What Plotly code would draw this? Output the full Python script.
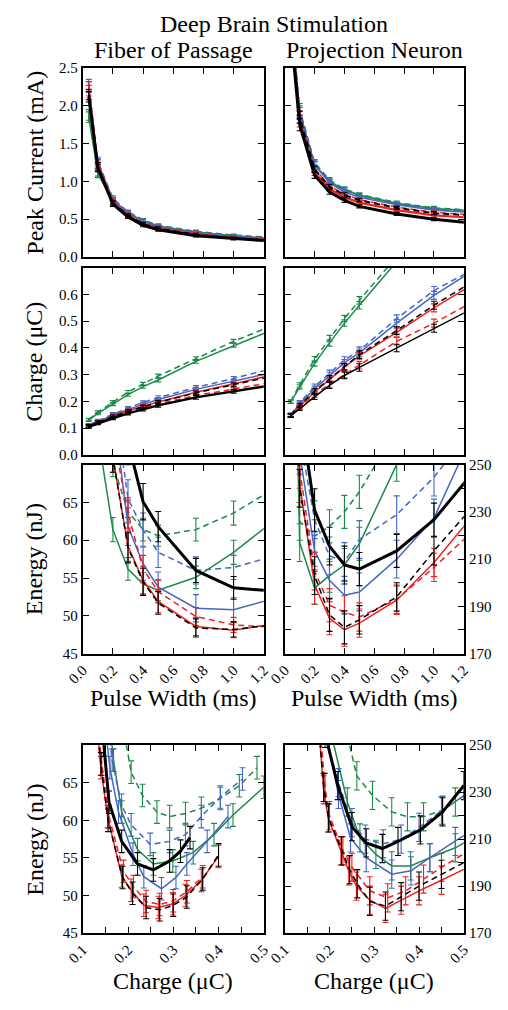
import plotly.graph_objects as go

# ---------------- data ----------------
PW = [0.04, 0.1, 0.2, 0.3, 0.4, 0.5, 0.75, 1.0, 1.25]
PW_TICKS = [0.0, 0.2, 0.4, 0.6, 0.8, 1.0, 1.2]
PW_TICK_TEXT = ["0.0", "0.2", "0.4", "0.6", "0.8", "1.0", "1.2"]

# Row 1: peak current (mA) - fiber of passage
fp_cur_k = [2.12, 1.18, 0.70, 0.53, 0.42, 0.36, 0.28, 0.24, 0.21]
fp_cur_kd = [2.15, 1.20, 0.72, 0.55, 0.44, 0.38, 0.30, 0.25, 0.22]
fp_cur_r = [2.20, 1.22, 0.72, 0.55, 0.44, 0.38, 0.30, 0.25, 0.225]
fp_cur_rd = [2.25, 1.24, 0.74, 0.56, 0.45, 0.39, 0.31, 0.26, 0.23]
fp_cur_b = [2.25, 1.25, 0.76, 0.58, 0.47, 0.40, 0.32, 0.27, 0.24]
fp_cur_bd = [2.28, 1.27, 0.78, 0.59, 0.48, 0.41, 0.33, 0.28, 0.25]
fp_cur_g = [1.85, 1.10, 0.74, 0.58, 0.48, 0.41, 0.33, 0.28, 0.25]
fp_cur_gd = [1.88, 1.12, 0.76, 0.60, 0.49, 0.42, 0.34, 0.29, 0.26]
fp_cur_err = [0.07, 0.05, 0.03, 0.02, 0.02, 0.02, 0.015, 0.015, 0.015]

# Row 1: peak current (mA) - projection neuron
pn_cur_k = [3.0, 1.75, 1.08, 0.86, 0.75, 0.67, 0.57, 0.50, 0.45]
pn_cur_kd = [3.1, 1.85, 1.16, 0.93, 0.82, 0.75, 0.65, 0.58, 0.55]
pn_cur_r = [3.1, 1.80, 1.12, 0.90, 0.79, 0.72, 0.62, 0.55, 0.52]
pn_cur_rd = [3.15, 1.85, 1.17, 0.94, 0.83, 0.76, 0.66, 0.59, 0.56]
pn_cur_b = [3.25, 1.92, 1.22, 0.98, 0.86, 0.79, 0.69, 0.62, 0.59]
pn_cur_bd = [3.3, 1.95, 1.24, 1.00, 0.88, 0.81, 0.70, 0.63, 0.60]
pn_cur_g = [3.25, 1.90, 1.22, 1.00, 0.89, 0.82, 0.71, 0.64, 0.61]
pn_cur_gd = [3.3, 1.95, 1.25, 1.02, 0.90, 0.83, 0.72, 0.65, 0.62]
pn_cur_err = [0.15, 0.08, 0.04, 0.03, 0.03, 0.02, 0.02, 0.02, 0.02]

# Row 2: charge (uC) - fiber of passage
fp_q_k = [0.105, 0.118, 0.137, 0.155, 0.170, 0.185, 0.215, 0.238, 0.260]
fp_q_kd = [0.108, 0.122, 0.143, 0.163, 0.180, 0.196, 0.232, 0.262, 0.293]
fp_q_r = [0.108, 0.122, 0.144, 0.165, 0.182, 0.198, 0.234, 0.265, 0.298]
fp_q_rd = [0.106, 0.120, 0.140, 0.158, 0.174, 0.190, 0.222, 0.246, 0.271]
fp_q_b = [0.110, 0.125, 0.148, 0.170, 0.190, 0.207, 0.245, 0.275, 0.307]
fp_q_bd = [0.112, 0.128, 0.152, 0.175, 0.196, 0.214, 0.252, 0.286, 0.322]
fp_q_g = [0.130, 0.155, 0.190, 0.225, 0.255, 0.280, 0.350, 0.410, 0.466]
fp_q_gd = [0.132, 0.160, 0.197, 0.235, 0.265, 0.295, 0.360, 0.425, 0.482]
fp_q_err = [0.005, 0.005, 0.006, 0.006, 0.006, 0.007, 0.007, 0.007, 0.007]

# Row 2: charge (uC) - projection neuron
pn_q_k = [0.146, 0.174, 0.217, 0.260, 0.297, 0.327, 0.400, 0.474, 0.545]
pn_q_kd = [0.148, 0.185, 0.238, 0.285, 0.330, 0.375, 0.465, 0.560, 0.645]
pn_q_r = [0.147, 0.182, 0.235, 0.283, 0.328, 0.370, 0.458, 0.550, 0.635]
pn_q_rd = [0.146, 0.178, 0.225, 0.265, 0.300, 0.335, 0.425, 0.493, 0.570]
pn_q_b = [0.148, 0.190, 0.247, 0.297, 0.345, 0.382, 0.493, 0.597, 0.685]
pn_q_bd = [0.150, 0.195, 0.255, 0.305, 0.355, 0.390, 0.510, 0.615, 0.690]
pn_q_g = [0.198, 0.254, 0.342, 0.419, 0.493, 0.560, 0.730, 0.900, 1.050]
pn_q_gd = [0.200, 0.262, 0.358, 0.435, 0.510, 0.578, 0.750, 0.920, 1.070]
pn_q_err = [0.006, 0.008, 0.010, 0.012, 0.012, 0.014, 0.014, 0.015, 0.015]

# Row 3: energy (nJ) vs pulse width - fiber of passage
fp_e_k = [300, 150, 92, 73, 65.1, 61.8, 56.0, 53.7, 53.3]
fp_e_kd = [250, 110, 71, 59.0, 54.5, 51.7, 48.4, 48.2, 48.8]
fp_e_r = [250, 110, 71, 59.2, 54.7, 51.9, 48.6, 48.1, 48.85]
fp_e_rd = [260, 115, 74, 63.6, 56.2, 53.2, 49.9, 48.8, 48.5]
fp_e_b = [260, 120, 78, 61.8, 56.9, 53.8, 51.0, 50.8, 52.2]
fp_e_bd = [270, 125, 80, 65.5, 61.4, 58.4, 56.0, 56.4, 57.8]
fp_e_g = [200, 74, 61.4, 56.2, 54.2, 53.4, 55.1, 58.4, 62.3]
fp_e_gd = [220, 85, 70, 63.8, 61.4, 60.6, 61.4, 63.6, 66.6]
fp_e_err_k = [3, 3, 3, 3, 2.4, 2.0, 1.6, 1.5, 1.5]
fp_e_err_r = [2, 2, 2, 2, 1.8, 1.5, 1.2, 1.0, 1.0]
fp_e_err_b = [2.5, 2.5, 2.5, 2.5, 2.2, 2.0, 1.8, 1.6, 1.6]
fp_e_err_g = [2, 2, 1.6, 1.5, 1.5, 1.4, 1.5, 1.6, 1.8]

# Row 3: energy (nJ) vs pulse width - projection neuron
pn_e_k = [400, 275, 230.8, 215.5, 207.5, 205.8, 213.5, 226.7, 245.8]
pn_e_kd = [400, 240, 203, 186.4, 181.1, 184.3, 194, 213.5, 231.5]
pn_e_r = [400, 242, 199, 185, 180.1, 182.9, 192.6, 208.6, 227.7]
pn_e_rd = [400, 248, 205, 190.5, 187.5, 185.5, 193, 206.5, 221.3]
pn_e_b = [400, 255, 213.5, 201, 194.7, 196.1, 210, 227.4, 262]
pn_e_bd = [400, 262, 226.7, 211.4, 209, 218.3, 228.8, 244.7, 265]
pn_e_g = [400, 217, 197.8, 203, 207.5, 216.5, 250, 285, 320]
pn_e_gd = [400, 226, 219.7, 223.9, 230, 238.5, 265, 290, 315]
pn_e_err_k = [10, 10, 9, 8, 8, 7, 7, 7, 7]
pn_e_err_r = [8, 8, 8, 7, 7, 6, 6, 6, 6]
pn_e_err_b = [9, 9, 8, 8, 8, 8, 8, 8, 8]
pn_e_err_g = [8, 8, 7, 7, 7, 7, 7, 7, 7]

# Row 4: energy (nJ) vs charge (uC) - fiber of passage
fpq_k_x = [0.135, 0.146, 0.158, 0.186, 0.221, 0.256, 0.292, 0.316, 0.337]
fpq_k_y = [78, 70, 62.4, 57.2, 54.2, 53.4, 54.6, 55.9, 57.7]
fpq_kd_x = [0.128, 0.14, 0.156, 0.188, 0.21, 0.24, 0.27, 0.30, 0.33, 0.365, 0.40]
fpq_kd_y = [75, 67.5, 60, 52.4, 50.3, 48.4, 48.1, 48.7, 49.8, 52.2, 55.4]
fpq_r_x = [0.128, 0.14, 0.155, 0.186, 0.207, 0.235, 0.267, 0.299, 0.327, 0.362, 0.40]
fpq_r_y = [75, 67, 60.5, 52.6, 50.7, 48.7, 48.4, 48.9, 50.0, 52.0, 55.2]
fpq_rd_x = [0.13, 0.142, 0.158, 0.19, 0.212, 0.24, 0.27, 0.30, 0.33, 0.365]
fpq_rd_y = [75, 67.5, 60.5, 53.2, 51.2, 49.2, 48.8, 49.3, 50.5, 52.5]
fpq_b_x = [0.143, 0.16, 0.179, 0.211, 0.235, 0.274, 0.306, 0.33, 0.375, 0.421]
fpq_b_y = [76, 67, 61.1, 55.5, 52.5, 50.9, 52.4, 54.2, 57.2, 60.5]
fpq_bd_x = [0.15, 0.165, 0.186, 0.207, 0.249, 0.292, 0.327, 0.362, 0.404, 0.453]
fpq_bd_y = [76, 68, 62.0, 59.4, 56.8, 57.2, 58.1, 60.5, 63.1, 65.5]
fpq_g_x = [0.155, 0.168, 0.186, 0.221, 0.256, 0.299, 0.344, 0.39, 0.432, 0.50]
fpq_g_y = [76, 68, 61.1, 56.1, 54.2, 54.6, 55.7, 58.1, 60.7, 64.4]
fpq_gd_x = [0.185, 0.207, 0.232, 0.264, 0.292, 0.327, 0.362, 0.404, 0.446, 0.485]
fpq_gd_y = [74, 66.4, 63.3, 61.1, 60.5, 60.9, 61.6, 62.9, 64.6, 67.0]
fpq_err = 1.5

# Row 4: energy (nJ) vs charge (uC) - projection neuron
pnq_k_x = [0.19, 0.2185, 0.25, 0.282, 0.318, 0.353, 0.403, 0.4525, 0.50]
pnq_k_y = [255, 232.8, 215.3, 208.4, 206, 209, 213.9, 221.6, 232.8]
pnq_kd_x = [0.175, 0.187, 0.198, 0.227, 0.245, 0.262, 0.29, 0.325, 0.36, 0.40, 0.45, 0.52]
pnq_kd_y = [260, 232, 219, 205, 197, 191, 183.5, 181.5, 185.5, 190, 195, 202]
pnq_r_x = [0.175, 0.187, 0.197, 0.2255, 0.243, 0.26, 0.29, 0.325, 0.36, 0.40, 0.45, 0.52]
pnq_r_y = [260, 231, 219, 205, 196.5, 190, 184, 180.5, 184, 188, 192.5, 199]
pnq_rd_x = [0.178, 0.19, 0.2, 0.23, 0.25, 0.29, 0.33, 0.37, 0.41, 0.45, 0.52]
pnq_rd_y = [260, 232, 220, 205, 198, 188, 185, 188, 193, 198, 206]
pnq_b_x = [0.19, 0.22, 0.247, 0.282, 0.339, 0.382, 0.424, 0.481, 0.52]
pnq_b_y = [258, 229, 210.5, 202.1, 195.1, 196.5, 202.1, 209, 214]
pnq_bd_x = [0.185, 0.22, 0.25, 0.28, 0.32, 0.36, 0.40, 0.45, 0.52]
pnq_bd_y = [258, 234, 217, 210, 208, 210, 215, 222, 231]
pnq_g_x = [0.195, 0.2398, 0.268, 0.3036, 0.339, 0.381, 0.424, 0.481, 0.52]
pnq_g_y = [262, 225.8, 210.5, 203.5, 198.6, 198.6, 202.1, 206.3, 210.5]
pnq_gd_x = [0.235, 0.261, 0.296, 0.339, 0.374, 0.41, 0.4525, 0.481, 0.52]
pnq_gd_y = [258, 236.9, 228.6, 221.6, 219.5, 219.5, 222.3, 225.8, 231]
pnq_err = 6

Q_TICKS = [0.1, 0.15, 0.2, 0.25, 0.3, 0.35, 0.4, 0.45, 0.5]
Q_TICK_TEXT = ["0.1", "", "0.2", "", "0.3", "", "0.4", "", "0.5"]

# ---------------- style ----------------
W, H = 508, 1010
FONT = "Liberation Serif"
BLACK, RED, BLUE, GREEN = "#000000", "#ee2020", "#4466c4", "#1c8a48"
DASH = "6px,4px"

COLS = {1: (69, 259), 2: (281, 469)}
ROWS = {1: (61, 253), 2: (264, 454), 3: (464, 656), 4: (749, 940)}


def xdom(c):
    a, b = COLS[c]
    return [a / W, b / W]


def ydom(r):
    a, b = ROWS[r]
    return [1 - b / H, 1 - a / H]


fig = go.Figure()


def add(panel, x, y, err, color, dashed=False, width=1.5):
    if not isinstance(err, list):
        err = [err] * len(y)
    fig.add_trace(go.Scatter(
        x=x, y=y, mode="lines",
        line=dict(color=color, width=width, dash=DASH if dashed else "solid"),
        error_y=dict(type="data", array=err, visible=True, color=color,
                     thickness=1.1, width=3),
        xaxis="x" + str(panel), yaxis="y" + str(panel),
        showlegend=False, hoverinfo="skip",
    ))


def add_panel(panel, x, series):
    # series order: gd, g, bd, b, rd, r, kd, k
    for vals, err, color, dashed, width in series:
        add(panel, x, vals, err, color, dashed, width)


add_panel(1, PW, [
    (fp_cur_gd, fp_cur_err, GREEN, True, 1.5), (fp_cur_g, fp_cur_err, GREEN, False, 1.5),
    (fp_cur_bd, fp_cur_err, BLUE, True, 1.5), (fp_cur_b, fp_cur_err, BLUE, False, 1.5),
    (fp_cur_rd, fp_cur_err, RED, True, 1.5), (fp_cur_r, fp_cur_err, RED, False, 1.8),
    (fp_cur_kd, fp_cur_err, BLACK, True, 1.5), (fp_cur_k, fp_cur_err, BLACK, False, 3),
])
add_panel(2, PW, [
    (pn_cur_gd, pn_cur_err, GREEN, True, 1.5), (pn_cur_g, pn_cur_err, GREEN, False, 1.8),
    (pn_cur_bd, pn_cur_err, BLUE, True, 1.5), (pn_cur_b, pn_cur_err, BLUE, False, 1.5),
    (pn_cur_rd, pn_cur_err, RED, True, 1.5), (pn_cur_r, pn_cur_err, RED, False, 2.2),
    (pn_cur_kd, pn_cur_err, BLACK, True, 2), (pn_cur_k, pn_cur_err, BLACK, False, 3),
])
add_panel(3, PW, [
    (fp_q_gd, fp_q_err, GREEN, True, 1.5), (fp_q_g, fp_q_err, GREEN, False, 1.5),
    (fp_q_bd, fp_q_err, BLUE, True, 1.5), (fp_q_b, fp_q_err, BLUE, False, 1.5),
    (fp_q_rd, fp_q_err, RED, True, 1.5), (fp_q_r, fp_q_err, RED, False, 1.5),
    (fp_q_kd, fp_q_err, BLACK, True, 1.5), (fp_q_k, fp_q_err, BLACK, False, 2.5),
])
add_panel(4, PW, [
    (pn_q_gd, pn_q_err, GREEN, True, 1.5), (pn_q_g, pn_q_err, GREEN, False, 1.5),
    (pn_q_bd, pn_q_err, BLUE, True, 1.5), (pn_q_b, pn_q_err, BLUE, False, 1.5),
    (pn_q_rd, pn_q_err, RED, True, 1.5), (pn_q_r, pn_q_err, RED, False, 1.5),
    (pn_q_kd, pn_q_err, BLACK, True, 1.5), (pn_q_k, pn_q_err, BLACK, False, 1.5),
])
add_panel(5, PW, [
    (fp_e_gd, fp_e_err_g, GREEN, True, 1.5), (fp_e_g, fp_e_err_g, GREEN, False, 1.5),
    (fp_e_bd, fp_e_err_b, BLUE, True, 1.5), (fp_e_b, fp_e_err_b, BLUE, False, 1.5),
    (fp_e_rd, fp_e_err_r, RED, True, 1.5), (fp_e_r, fp_e_err_r, RED, False, 1.5),
    (fp_e_kd, fp_e_err_r, BLACK, True, 1.5), (fp_e_k, fp_e_err_k, BLACK, False, 3),
])
add_panel(6, PW, [
    (pn_e_gd, pn_e_err_g, GREEN, True, 1.5), (pn_e_g, pn_e_err_g, GREEN, False, 1.5),
    (pn_e_bd, pn_e_err_b, BLUE, True, 1.5), (pn_e_b, pn_e_err_b, BLUE, False, 1.5),
    (pn_e_rd, pn_e_err_r, RED, True, 1.5), (pn_e_r, pn_e_err_r, RED, False, 1.5),
    (pn_e_kd, pn_e_err_r, BLACK, True, 1.5), (pn_e_k, pn_e_err_k, BLACK, False, 3),
])
for x, y, c, d, w in [
    (fpq_gd_x, fpq_gd_y, GREEN, True, 1.5), (fpq_g_x, fpq_g_y, GREEN, False, 1.5),
    (fpq_bd_x, fpq_bd_y, BLUE, True, 1.5), (fpq_b_x, fpq_b_y, BLUE, False, 1.5),
    (fpq_rd_x, fpq_rd_y, RED, True, 1.5), (fpq_r_x, fpq_r_y, RED, False, 1.5),
    (fpq_kd_x, fpq_kd_y, BLACK, True, 1.5), (fpq_k_x, fpq_k_y, BLACK, False, 3),
]:
    add(7, x, y, fpq_err, c, d, w)
for x, y, c, d, w in [
    (pnq_gd_x, pnq_gd_y, GREEN, True, 1.5), (pnq_g_x, pnq_g_y, GREEN, False, 1.5),
    (pnq_bd_x, pnq_bd_y, BLUE, True, 1.5), (pnq_b_x, pnq_b_y, BLUE, False, 1.5),
    (pnq_rd_x, pnq_rd_y, RED, True, 1.5), (pnq_r_x, pnq_r_y, RED, False, 1.5),
    (pnq_kd_x, pnq_kd_y, BLACK, True, 1.5), (pnq_k_x, pnq_k_y, BLACK, False, 3),
]:
    add(8, x, y, pnq_err, c, d, w)

# ---------------- axes ----------------
common = dict(showline=True, linecolor="black", linewidth=2.2, mirror="ticks",
              ticks="inside", ticklen=6, tickwidth=1.3, tickcolor="black",
              showgrid=False, zeroline=False,
              tickfont=dict(family=FONT, size=15, color="black"))

layout_axes = {}
for panel in range(1, 9):
    r = (panel - 1) // 2 + 1
    c = (panel - 1) % 2 + 1
    xa = dict(common, domain=xdom(c), anchor="y" + str(panel))
    ya = dict(common, domain=ydom(r), anchor="x" + str(panel))
    if r <= 3:
        xa.update(range=[0, 1.2], tickmode="array", tickvals=PW_TICKS,
                  ticktext=PW_TICK_TEXT, showticklabels=(r == 3), tickangle=-45)
    else:
        xa.update(range=[0.1, 0.5], tickmode="array", tickvals=Q_TICKS,
                  ticktext=Q_TICK_TEXT, tickangle=-45)
    if r == 1:
        ya.update(range=[0, 2.5], tickmode="array",
                  tickvals=[0, 0.5, 1.0, 1.5, 2.0, 2.5],
                  ticktext=["0.0", "0.5", "1.0", "1.5", "2.0", "2.5"],
                  showticklabels=(c == 1))
    elif r == 2:
        ya.update(range=[0, 0.7], tickmode="array",
                  tickvals=[0, 0.1, 0.2, 0.3, 0.4, 0.5, 0.6, 0.7],
                  ticktext=["0.0", "0.1", "0.2", "0.3", "0.4", "0.5", "0.6", ""],
                  showticklabels=(c == 1))
    else:
        if c == 1:
            ya.update(range=[45, 70], tickmode="array",
                      tickvals=[45, 50, 55, 60, 65, 70],
                      ticktext=["45", "50", "55", "60", "65", ""])
        else:
            ya.update(range=[170, 250], tickmode="array", side="right",
                      tickvals=[170, 180, 190, 200, 210, 220, 230, 240, 250],
                      ticktext=["170", "", "190", "", "210", "", "230", "", "250"])
    key = "" if panel == 1 else str(panel)
    layout_axes["xaxis" + key] = xa
    layout_axes["yaxis" + key] = ya

fig.update_layout(**layout_axes)


def ann(text, xpx, ypx, angle=0, size=24):
    fig.add_annotation(text=text, x=xpx / W, y=1 - ypx / H, xref="paper", yref="paper",
                       showarrow=False, textangle=angle, xanchor="center", yanchor="middle",
                       font=dict(family=FONT, size=size, color="black"))


ann("Deep Brain Stimulation", 270, 16)
ann("Fiber of Passage", 164, 42.5)
ann("Projection Neuron", 375, 42.5)
ann("Pulse Width (ms)", 164, 701)
ann("Pulse Width (ms)", 375, 701)
ann("Charge (\u03bcC)", 164, 989)
ann("Charge (\u03bcC)", 375, 989)
ann("Peak Current (mA)", 18, 157, -90)
ann("Charge (\u03bcC)", 18, 359, -90)
ann("Energy (nJ)", 18, 560, -90)
ann("Energy (nJ)", 18, 845, -90)

fig.update_layout(width=W, height=H, margin=dict(l=0, r=0, t=0, b=0),
                  paper_bgcolor="white", plot_bgcolor="white", showlegend=False)

fig.write_html("out.html", config={"displayModeBar": False},
               post_script="document.body.style.margin='0';document.body.style.overflow='hidden';")
